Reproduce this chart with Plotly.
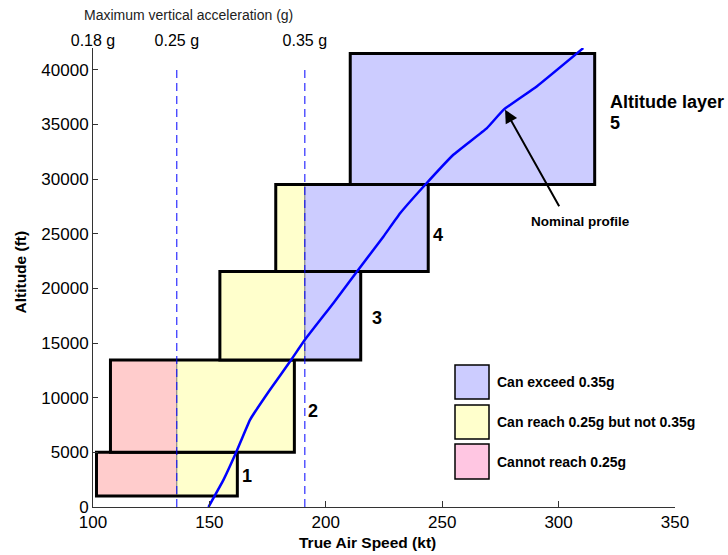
import plotly.graph_objects as go

# Altitude layers: speed band (kt) and altitude band (ft)
layer_names = ["1", "2", "3", "4", "5"]
layer_tas_min = [101.5, 107.5, 154.5, 178.5, 210.5]
layer_tas_max = [162.0, 186.5, 215.0, 244.0, 315.5]
layer_alt_min = [1000, 5000, 13450, 21550, 29500]
layer_alt_max = [5000, 13450, 21550, 29500, 41500]

# Speeds at which the maximum vertical acceleration reaches each level
accel_levels = ["0.18 g", "0.25 g", "0.35 g"]
accel_tas = [100, 136, 191]

# Nominal climb profile
profile_tas = [149.6, 156.1, 161.5, 167.5, 176.1, 184.7, 191.0, 203.3, 213.4,
               224.8, 232.0, 242.7, 254.8, 269.2, 276.3, 290.6, 310.6]
profile_alt = [0, 2500, 5000, 8000, 10750, 13330, 15300, 18670, 21560,
               24760, 26900, 29490, 32230, 34670, 36340, 38480, 41990]

# Capability categories (legend order, top to bottom)
categories = ["Can exceed 0.35g", "Can reach 0.25g but not 0.35g", "Cannot reach 0.25g"]
category_fill = ["#CCCCFF", "#FFFFCC", "#FFCCCC"]
legend_fill = ["#CCCCFF", "#FFFFCC", "#FFC6E2"]

FONT = "Liberation Sans, Arial, sans-serif"

# plot-area geometry in pixels, used to place paper-referenced items
W, H = 728, 555
ML, MR, MT, MB = 93, 53, 48, 48
PW, PH = W - ML - MR, H - MT - MB


def px_x(px):
    return (px - ML) / PW


def px_y(py):
    return (H - MB - py) / PH


fig = go.Figure()

shapes = []
# speed bands: below 0.25 g, between 0.25 g and 0.35 g, above 0.35 g
bands = [(-1e9, accel_tas[1], 2), (accel_tas[1], accel_tas[2], 1), (accel_tas[2], 1e9, 0)]
for x0, x1, y0, y1 in zip(layer_tas_min, layer_tas_max, layer_alt_min, layer_alt_max):
    for lo, hi, cat in bands:
        a, b = max(x0, lo), min(x1, hi)
        if b > a:
            shapes.append(dict(type="rect", xref="x", yref="y", x0=a, x1=b, y0=y0, y1=y1,
                               fillcolor=category_fill[cat], line=dict(color="#8a8a8a", width=1),
                               layer="below"))
    shapes.append(dict(type="rect", xref="x", yref="y", x0=x0, x1=x1, y0=y0, y1=y1,
                       fillcolor="rgba(0,0,0,0)", line=dict(color="black", width=3),
                       layer="below"))

# legend swatches
legend_rows_px = [(365, 399), (405, 439), (444, 479)]
for (t, b), col in zip(legend_rows_px, legend_fill):
    shapes.append(dict(type="rect", xref="paper", yref="paper",
                       x0=px_x(455), x1=px_x(489), y0=px_y(b), y1=px_y(t),
                       fillcolor=col, line=dict(color="black", width=1.5)))

# constant-acceleration speed lines
for v in accel_tas[1:]:
    fig.add_trace(go.Scatter(x=[v, v], y=[0, 40000], mode="lines", xaxis="x2", yaxis="y",
                             line=dict(color="#0000FF", width=1, dash="8px,5px"),
                             hoverinfo="skip", showlegend=False))

fig.add_trace(go.Scatter(x=profile_tas, y=profile_alt, mode="lines",
                         line=dict(color="#0000FF", width=2.5, shape="spline", smoothing=0.3),
                         showlegend=False))

annotations = []
label_x = [166.1, 194.5, 222.2, 248.4]
label_y = [2800, 8750, 17300, 24900]
for name, lx, ly in zip(layer_names[:4], label_x, label_y):
    annotations.append(dict(x=lx, y=ly, xref="x", yref="y", text=f"<b>{name}</b>",
                            xanchor="center", yanchor="middle", showarrow=False,
                            font=dict(family=FONT, size=18, color="black")))
annotations.append(dict(x=321.4, y=37100, xref="x", yref="y", text="<b>Altitude layer</b>",
                        xanchor="left", yanchor="middle", showarrow=False,
                        font=dict(family=FONT, size=18, color="black")))
annotations.append(dict(x=321.4, y=35130, xref="x", yref="y", text=f"<b>{layer_names[4]}</b>",
                        xanchor="left", yanchor="middle", showarrow=False,
                        font=dict(family=FONT, size=18, color="black")))

# arrow to the nominal profile
annotations.append(dict(x=277.0, y=36350, xref="x", yref="y", ax=300.6, ay=27380,
                        axref="x", ayref="y", text="", showarrow=True, arrowhead=2,
                        arrowsize=1.3, arrowwidth=2, arrowcolor="black"))
annotations.append(dict(x=309.2, y=26130, xref="x", yref="y", text="<b>Nominal profile</b>",
                        xanchor="center", yanchor="middle", showarrow=False,
                        font=dict(family=FONT, size=13.5, color="black")))

for (t, b), cat in zip(legend_rows_px, categories):
    annotations.append(dict(x=px_x(495), y=px_y((t + b) / 2), xref="paper", yref="paper",
                            text=f"<b>{cat}</b>", xanchor="left", yanchor="middle",
                            showarrow=False, font=dict(family=FONT, size=14, color="black")))

annotations.append(dict(x=px_x(188), y=px_y(15), xref="paper", yref="paper",
                        text="Maximum vertical acceleration (g)", showarrow=False,
                        xanchor="center", yanchor="middle",
                        font=dict(family=FONT, size=14, color="#222")))
annotations.append(dict(x=px_x(367), y=px_y(542), xref="paper", yref="paper",
                        text="<b>True Air Speed (kt)</b>", showarrow=False,
                        xanchor="center", yanchor="middle",
                        font=dict(family=FONT, size=15.5, color="black")))
annotations.append(dict(x=px_x(20), y=px_y(272.5), xref="paper", yref="paper",
                        text="<b>Altitude (ft)</b>", textangle=-90, showarrow=False,
                        xanchor="center", yanchor="middle",
                        font=dict(family=FONT, size=15.5, color="black")))

fig.update_layout(
    width=W, height=H,
    margin=dict(l=ML, r=MR, t=MT, b=MB),
    paper_bgcolor="white", plot_bgcolor="white",
    showlegend=False,
    shapes=shapes,
    annotations=annotations,
    xaxis=dict(range=[100, 350], tickvals=[100, 150, 200, 250, 300, 350],
               ticks="inside", ticklen=6, tickcolor="#333", showline=True,
               linecolor="#333", linewidth=1, showgrid=False, zeroline=False,
               tickfont=dict(family=FONT, size=17, color="black")),
    xaxis2=dict(range=[100, 350], overlaying="x", side="top", anchor="y",
                tickvals=accel_tas, ticktext=accel_levels, ticks="",
                showline=False, showgrid=False, zeroline=False, ticklabelstandoff=-2,
                tickfont=dict(family=FONT, size=16, color="black")),
    yaxis=dict(range=[0, 42000], tickvals=list(range(0, 40001, 5000)), tickformat="d",
               ticks="inside", ticklen=5, tickcolor="#333", showline=True,
               linecolor="#333", linewidth=1, showgrid=False, zeroline=False,
               tickfont=dict(family=FONT, size=17, color="black")),
)

fig.write_html("out.html")
